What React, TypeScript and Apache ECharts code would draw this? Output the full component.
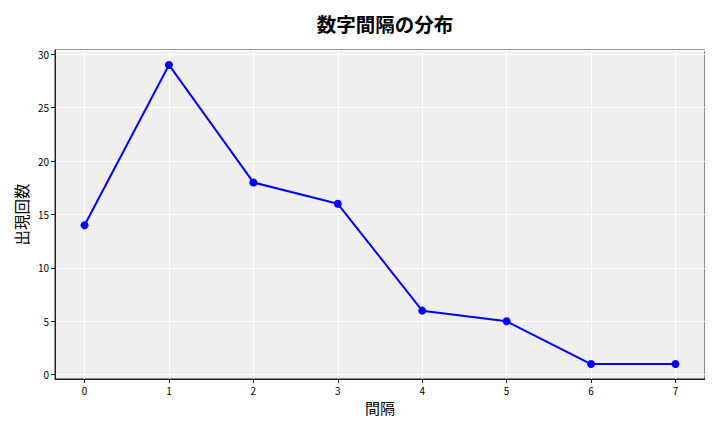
import { useEffect, useRef } from 'react';
import * as echarts from 'echarts';

const intervals = [0, 1, 2, 3, 4, 5, 6, 7];
const counts = [14, 29, 18, 16, 6, 5, 1, 1];
const titleText = '数字間隔の分布';
const xName = '間隔';
const yName = '出現回数';

const FONT = '"Noto Sans CJK JP", "Noto Sans", sans-serif';

export default function App() {
    const ref = useRef<HTMLDivElement | null>(null);

    useEffect(() => {
        if (!ref.current) return;
        const chart = echarts.init(ref.current, undefined, { renderer: 'svg' });
        const intLabel = (v: number) => (Number.isInteger(v) ? String(v) : '');
        chart.setOption({
            animation: false,
            textStyle: { fontFamily: FONT },
            title: {
                text: titleText,
                left: 380,
                textAlign: 'center',
                top: 9,
                textStyle: { fontSize: 19.5, fontWeight: 'bold', color: '#000', fontFamily: FONT }
            },
            grid: {
                left: 55, right: 15, top: 50, bottom: 53,
                show: true, backgroundColor: '#efefef', borderColor: '#222', borderWidth: 1
            },
            xAxis: {
                type: 'value',
                min: -0.35,
                max: 7.35,
                splitNumber: 8,
                name: xName,
                nameLocation: 'middle',
                nameGap: 21,
                nameTextStyle: { fontSize: 15, color: '#000', fontFamily: FONT },
                axisLine: { show: true, onZero: false, lineStyle: { color: '#222', width: 1 } },
                axisTick: { show: true, length: 4, lineStyle: { color: '#222' } },
                axisLabel: {
                    color: '#000', fontSize: 10, margin: 6,
                    showMinLabel: false, showMaxLabel: false, formatter: intLabel
                },
                splitLine: { show: true, lineStyle: { color: '#fff', width: 1 } }
            },
            yAxis: {
                type: 'value',
                min: -0.4,
                max: 30.4,
                splitNumber: 6,
                name: yName,
                nameLocation: 'middle',
                nameGap: 26,
                nameMoveOverlap: false,
                nameTextStyle: { fontSize: 15.5, color: '#000', fontFamily: FONT },
                axisLine: { show: true, onZero: false, lineStyle: { color: '#222', width: 1 } },
                axisTick: { show: true, length: 4, lineStyle: { color: '#222' } },
                axisLabel: {
                    color: '#000', fontSize: 10, margin: 6,
                    showMinLabel: false, showMaxLabel: false, formatter: intLabel
                },
                splitLine: { show: true, lineStyle: { color: '#fff', width: 1 } }
            },
            series: [
                {
                    type: 'line',
                    data: intervals.map((x, i) => [x, counts[i]]),
                    symbol: 'circle',
                    symbolSize: 8,
                    lineStyle: { color: '#0000ff', width: 2 },
                    itemStyle: { color: '#0000ff' }
                }
            ]
        });
        return () => chart.dispose();
    }, []);

    return <div ref={ref} style={{ width: 720, height: 432, margin: -8 }} />;
}
